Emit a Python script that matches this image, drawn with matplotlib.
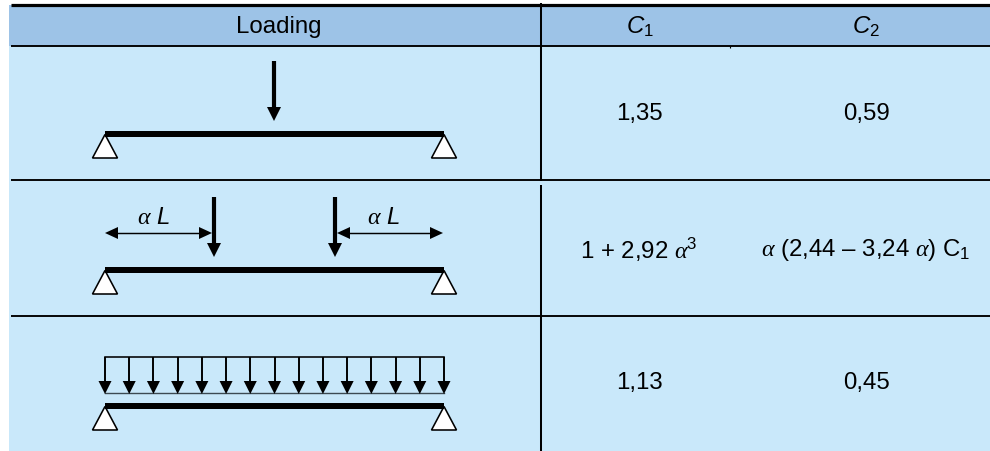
import matplotlib
matplotlib.use("Agg")
import matplotlib.pyplot as plt
from matplotlib.patches import Polygon, Rectangle

plt.rcParams['font.family'] = ['Liberation Sans', 'DejaVu Sans']
plt.rcParams['mathtext.fontset'] = 'custom'
plt.rcParams['mathtext.rm'] = 'Liberation Sans'
plt.rcParams['mathtext.it'] = 'Liberation Sans:italic'
plt.rcParams['mathtext.cal'] = 'Liberation Serif:italic'
plt.rcParams['mathtext.default'] = 'rm'

headers = ['Loading', r'$\mathit{C}_{1}$', r'$\mathit{C}_{2}$']
c1_values = ['1,35', r'1 + 2,92 $\mathcal{\alpha}^{3}$', '1,13']
c2_values = ['0,59', r'$\mathcal{\alpha}$ (2,44 – 3,24 $\mathcal{\alpha}$) $C_{1}$', '0,45']
span_label = r'$\mathcal{\alpha}\ \mathit{L}$'
n_distributed = 15

HEAD = '#9DC3E7'
BODY = '#C9E8FA'
X0, X1, XV = 9, 990, 541
COL1, COL2 = 639, 866
BEAM_L, BEAM_R = 105, 444

fig = plt.figure(figsize=(9.9, 4.52), dpi=100)
ax = fig.add_axes([0, 0, 1, 1])
ax.set_xlim(0, 990)
ax.set_ylim(452, 0)
ax.axis('off')

ax.add_patch(Rectangle((X0, 6), X1 - X0, 41, fc=HEAD, ec='none'))
ax.add_patch(Rectangle((X0, 47), X1 - X0, 405, fc=BODY, ec='none'))

for y, lw in [(5.5, 3.2), (47, 1.9), (181, 1.9), (316.5, 1.9)]:
    ax.plot([11, X1], [y, y], color='k', lw=lw * 0.72, solid_capstyle='butt', zorder=3)
ax.plot([XV, XV], [4, 182], color='k', lw=1.45, solid_capstyle='butt', zorder=3)
ax.plot([XV, XV], [186, 452], color='k', lw=1.45, solid_capstyle='butt', zorder=3)
ax.plot([730, 730], [47, 49], color='k', lw=0.8, solid_capstyle='butt', zorder=3)

FS = 17.3
ax.text(279, 27, headers[0], ha='center', va='center', fontsize=FS)
ax.text(640, 27, headers[1], ha='center', va='center', fontsize=FS)
ax.text(866, 27, headers[2], ha='center', va='center', fontsize=FS)

for y, a, b in zip([114, 250, 383], c1_values, c2_values):
    ax.text(COL1, y, a, ha='center', va='center', fontsize=FS)
    ax.text(COL2, y, b, ha='center', va='center', fontsize=FS)


def beam(y_top, y_base):
    ax.add_patch(Rectangle((BEAM_L, y_top), BEAM_R - BEAM_L, 6.5, fc='k', ec='none', zorder=4))
    for x in (BEAM_L, BEAM_R):
        ax.add_patch(Polygon([(x, y_top + 4), (x - 12.5, y_base), (x + 12.5, y_base)],
                             closed=True, fc='white', ec='k', lw=1.15, zorder=3))


def down(x, y0, y1, shaft=3.0, hw=7, hl=14):
    ax.plot([x, x], [y0, y1 - hl + 1], color='k', lw=shaft, solid_capstyle='butt', zorder=4)
    ax.add_patch(Polygon([(x - hw, y1 - hl), (x + hw, y1 - hl), (x, y1)], closed=True, fc='k', ec='none', zorder=4))


def horiz(xa, xb, y):
    ax.plot([xa + 10, xb - 10], [y, y], color='k', lw=1.05, solid_capstyle='butt', zorder=4)
    ax.add_patch(Polygon([(xa, y), (xa + 13, y - 6), (xa + 13, y + 6)], closed=True, fc='k', ec='none', zorder=4))
    ax.add_patch(Polygon([(xb, y), (xb - 13, y - 6), (xb - 13, y + 6)], closed=True, fc='k', ec='none', zorder=4))


# Row 1
beam(131.5, 159)
down(274, 62, 122)

# Row 2
beam(267.5, 295)
down(214, 198, 258)
down(335, 198, 258)
horiz(105, 212, 234)
horiz(337, 443, 234)
ax.text(153, 218, span_label, ha='center', va='center', fontsize=FS)
ax.text(383, 218, span_label, ha='center', va='center', fontsize=FS)

# Row 3
beam(403.5, 431)
ax.plot([BEAM_L, BEAM_R], [358, 358], color='k', lw=1.15, zorder=4)
ax.plot([BEAM_L, BEAM_R], [394, 394], color='#3c4a52', lw=1.0, zorder=4)
step = (BEAM_R - BEAM_L) / (n_distributed - 1)
for i in range(n_distributed):
    down(BEAM_L + i * step, 358, 395, shaft=1.4, hw=6.5, hl=13)

fig.savefig('out.png', dpi=100)
